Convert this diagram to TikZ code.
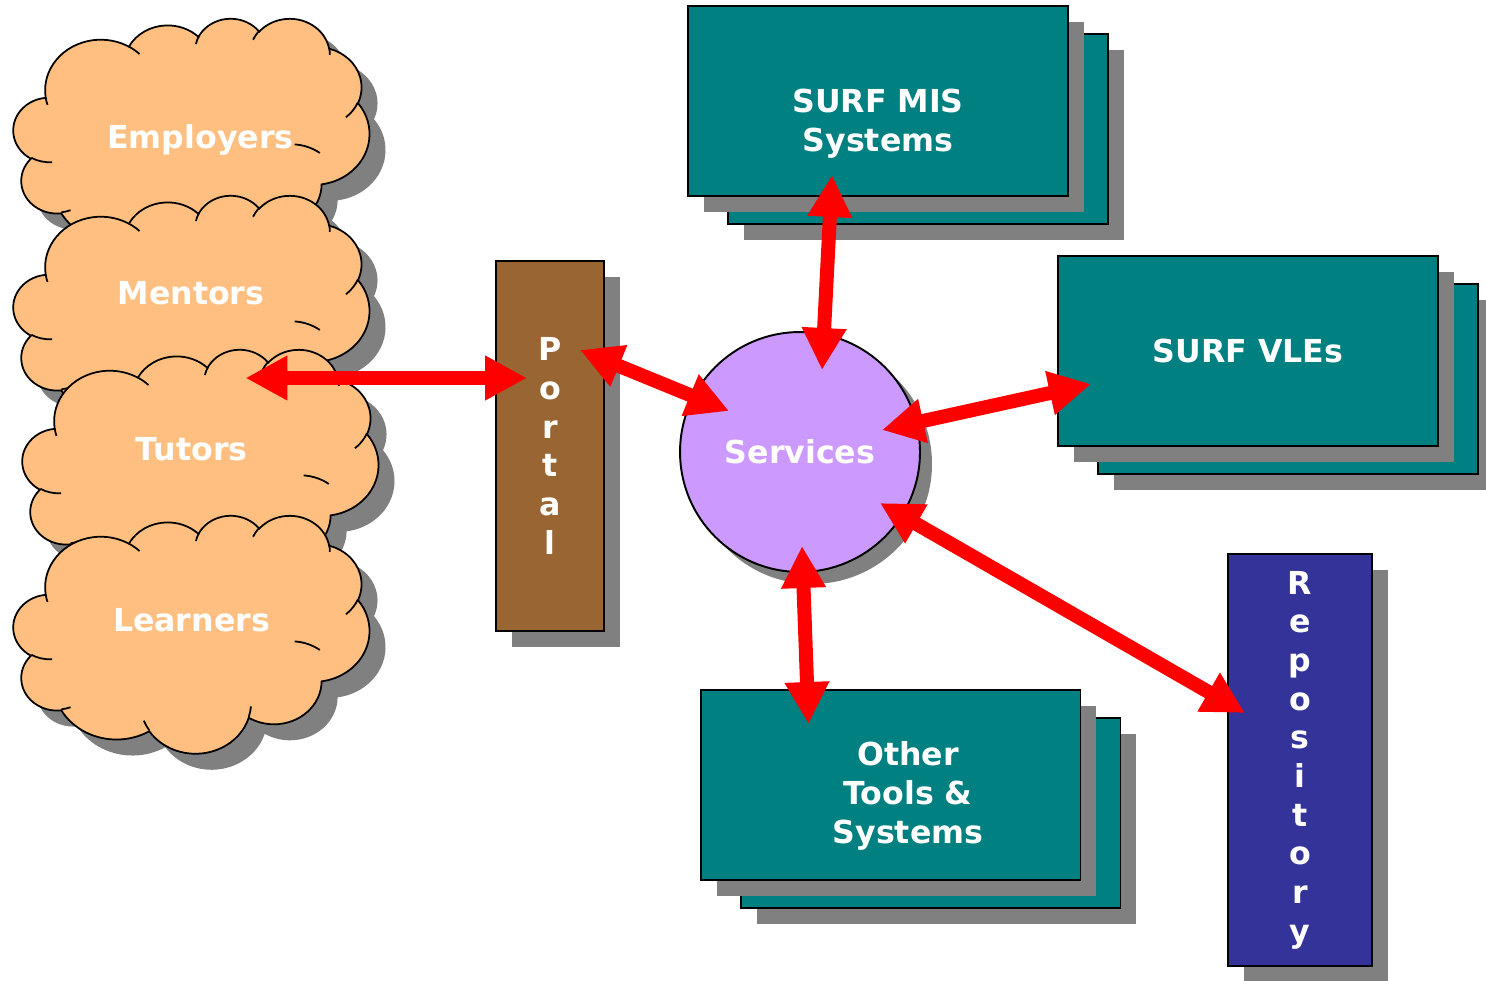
\documentclass[tikz,border=0pt]{standalone}
\usepackage{fontspec}
\setmainfont{DejaVu Sans}
\usepackage{tikz}
\usetikzlibrary{arrows.meta, shadows}

\definecolor{cloudfill}{HTML}{FFBF80}
\definecolor{systeal}{HTML}{008080}
\definecolor{portalbrown}{HTML}{996633}
\definecolor{servlilac}{HTML}{CC99FF}
\definecolor{repoblue}{HTML}{333399}
\definecolor{shadowgray}{HTML}{808080}

% cloud drawn in a 432 x 432 frame
\def\cloudux{0.016481}
\def\clouduy{0.011019}
\newcommand{\puff}[4]{arc[x radius={#1*\cloudux cm}, y radius={#2*\clouduy cm},
  start angle={-atan2(#1*sin(#3),#2*cos(#3))},
  delta angle={-Mod(atan2(#1*sin(#3+#4),#2*cos(#3+#4))-atan2(#1*sin(#3),#2*cos(#3)),360)}]}
\newcommand{\cloudline}{(39.00,143.70)
  \puff{67.53}{91.90}{-190.4875}{123.7805}
  \puff{53.33}{72.67}{-144.1024}{89.9452}
  \puff{43.65}{59.45}{-145.8079}{99.7230}
  \puff{48.57}{65.95}{-130.9861}{117.2417}
  \puff{53.33}{72.73}{-78.7089}{109.0269}
  \puff{67.75}{92.20}{-46.2673}{130.2690}
  \puff{57.85}{78.67}{0.6250}{114.0333}
  \puff{67.52}{92.15}{22.4516}{115.1726}
  \puff{77.20}{105.43}{66.2426}{75.7110}
  \puff{43.60}{59.18}{-274.9421}{146.7356}
  \puff{43.45}{59.45}{-246.8285}{152.5189} -- cycle}
\newcommand{\cloudcreases}{(46.93,261.77) \puff{43.45}{59.45}{86.7420}{26.4295}
  (69.28,348.99) \puff{43.60}{59.18}{73.6105}{11.4475}
  (164.78,390.90) \puff{67.52}{92.15}{137.6242}{14.0811}
  (288.27,347.51) \puff{67.52}{92.15}{6.4533}{15.9984}
  (341.29,229.54) \puff{57.85}{78.67}{-86.9590}{25.8384}
  (417.98,153.54) \puff{53.33}{72.73}{30.3180}{27.7515}
  (383.24,54.26) \puff{48.57}{65.95}{-13.7443}{14.8589}
  (290.78,39.52) \puff{48.57}{65.95}{-149.1815}{18.1954}
  (221.41,47.20) \puff{43.65}{59.45}{-163.4943}{17.6864}
  (140.00,51.92) \puff{67.53}{91.90}{-66.7070}{12.3194}
  (41.27,157.89) \puff{67.53}{91.90}{157.6544}{11.8582}}

\tikzset{
  cloudpic/.pic={
    \begin{scope}[x=\cloudux cm, y=-\clouduy cm]
      \fill[shadowgray, shift={(0.32cm,-0.32cm)}] \cloudline;
      \filldraw[fill=cloudfill, draw=black, line width=1pt] \cloudline;
      \draw[line width=1pt] \cloudcreases;
    \end{scope}
  },
  boxshadow/.style={drop shadow={shadow xshift=#1, shadow yshift=-#1, fill=shadowgray, opacity=1}},
  boxshadow/.default=0.32cm,
  stack/.style={rectangle, draw=black, line width=1.1pt, fill=systeal, minimum width=7.6cm, minimum height=3.8cm, boxshadow},
  lbl/.style={text=white, font=\bfseries\fontsize{18}{22}\selectfont, align=center, inner sep=0pt},
  link/.style={draw=red, line width=0.28cm, {Triangle[length=0.84cm, width=0.84cm]}-{Triangle[length=0.84cm, width=0.84cm]}}
}

\begin{document}
\begin{tikzpicture}[x=0.02cm, y=-0.02cm]
\useasboundingbox (0,0) rectangle (1486,980);

\pic at (13.5,18) {cloudpic};
\node[lbl, anchor=base] (employers) at (200.5,148) {Employers};
\pic at (13.5,195) {cloudpic};
\node[lbl, anchor=base] (mentors) at (191,304) {Mentors};
\pic at (22.5,349) {cloudpic};
\node[lbl, anchor=base] (tutors) at (191.5,460) {Tutors};
\pic at (13.5,515) {cloudpic};
\node[lbl, anchor=base] (learners) at (191.5,631) {Learners};

\node[lbl, rectangle, draw=black, line width=1.1pt, fill=portalbrown, minimum width=2.16cm, minimum height=7.4cm, boxshadow] (portal) at (550,446) {P\\o\\r\\t\\a\\l};

\node[lbl, circle, draw=black, line width=1.1pt, fill=servlilac, minimum size=4.8cm, boxshadow=0.24cm] (services) at (800,452) {Services};

\node[stack] (misBack) at (918,129) {};
\node[stack] (mis) at (878,101) {};
\node[lbl] (misText) at (878,124) {SURF MIS\\Systems};

\node[stack] (vlesBack) at (1288,379) {};
\node[stack, lbl] (vles) at (1248,351) {SURF VLEs};

\node[stack] (otherBack) at (930.5,813) {};
\node[stack] (other) at (890.5,785) {};
\node[lbl] (otherText) at (908,796) {Other\\Tools \&\\Systems};

\node[lbl, rectangle, draw=black, line width=1.1pt, fill=repoblue, minimum width=2.88cm, minimum height=8.24cm, boxshadow] (repo) at (1300,760) {R\\e\\p\\o\\s\\i\\t\\o\\r\\y};

\draw[link] ([shift={(54,-82)}]tutors.base) -- ([shift={(-23,-68)}]portal.center);
\draw[link] ([shift={(30,-96)}]portal.center) -- ([shift={(-71,-41)}]services.center);
\draw[link] ([shift={(-46,74)}]mis.center) -- ([shift={(22,-82)}]services.center);
\draw[link] ([shift={(82,-22)}]services.center) -- ([shift={(-157,33)}]vles.center);
\draw[link] ([shift={(80,51)}]services.center) -- ([shift={(-55,-47)}]repo.center);
\draw[link] ([shift={(2,94)}]services.center) -- ([shift={(-82,-61)}]other.center);
\end{tikzpicture}
\end{document}
